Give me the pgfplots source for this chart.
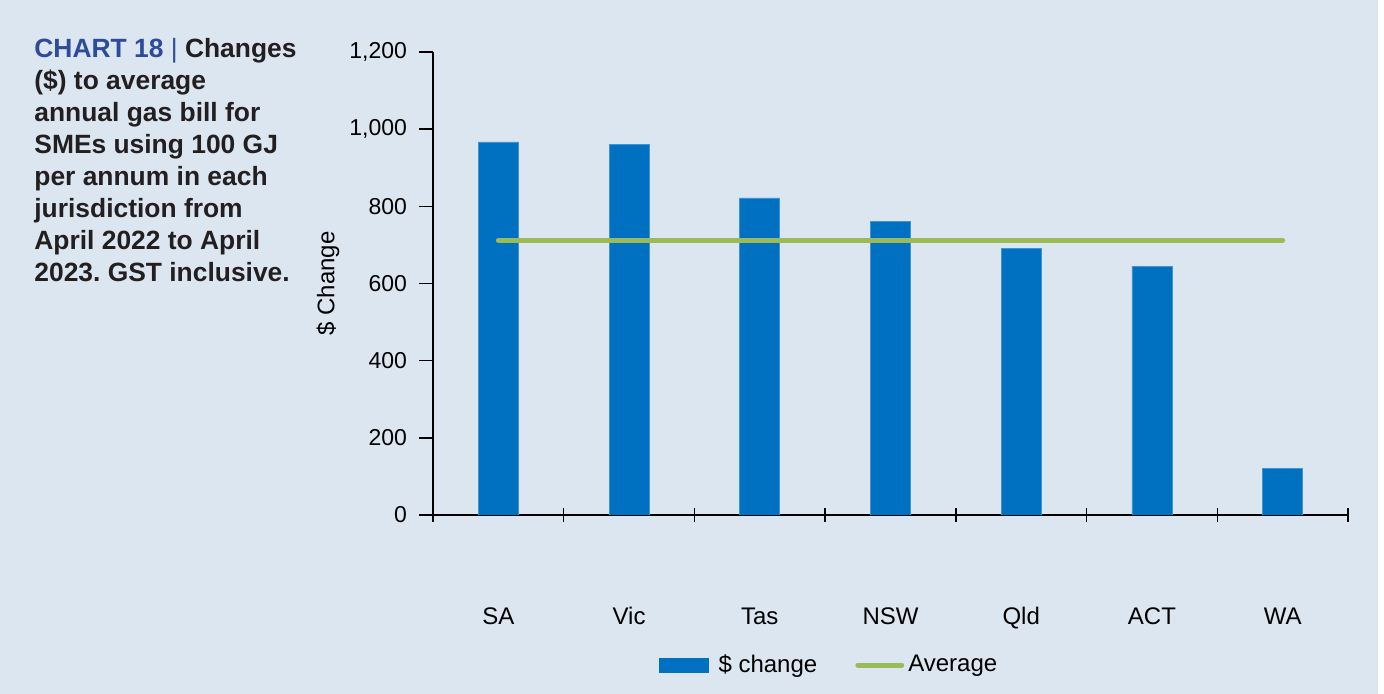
\documentclass[border=0pt]{standalone}
\usepackage{pgfplots}
\pgfplotsset{compat=1.18}
\usepackage{fontspec}
\setmainfont{Liberation Sans}
\frenchspacing
\definecolor{bg}{RGB}{220,230,241}
\definecolor{barblue}{RGB}{0,112,192}
\definecolor{avggreen}{RGB}{155,187,89}
\definecolor{titleblue}{RGB}{46,74,154}
\definecolor{txt}{RGB}{35,31,32}
\pgfplotsset{
  barlegend/.style={legend image code/.code={\fill[barblue] (0pt,-3.5pt) rectangle (24.5pt,3.5pt);}},
  linelegend/.style={legend image code/.code={\draw[##1] (1pt,0pt) -- (23pt,0pt);}},
}
\begin{document}
\begin{tikzpicture}
\fill[white, use as bounding box] (0pt,0pt) rectangle (692pt,347pt);
\fill[bg] (0pt,0pt) rectangle (689pt,347pt);
\node[anchor=north west, align=left, font=\fontsize{13.2}{16}\selectfont\bfseries, text=txt, inner sep=0pt] at (17pt,328pt)
{{\color{titleblue}CHART 18 {\mdseries|}} Changes\\
(\$) to average\\
annual gas bill for\\
SMEs using 100 GJ\\
per annum in each\\
jurisdiction from\\
April 2022 to April\\
2023. GST inclusive.};
\begin{axis}[
  at={(216.5pt,89.5pt)}, anchor=south west,
  scale only axis, width=457.5pt, height=231.5pt,
  xmin=-0.5, xmax=6.5, ymin=0, ymax=1200,
  axis lines*=left,
  axis line style={black, line width=0.7pt},
  tick style={black, line width=0.7pt},
  tick align=center, major tick length=7pt,
  y tick style={xshift=-3.5pt},
  xtick={-0.5,0.5,...,6.5}, xticklabels={},
  extra x ticks={0,1,2,3,4,5,6},
  extra x tick labels={SA,Vic,Tas,NSW,Qld,ACT,WA},
  extra x tick style={major tick length=0pt, tick label style={yshift=-42pt, text height=9pt, text depth=2.5pt}},
  ytick={0,200,...,1200},
  /pgf/number format/assume math mode=true,
  /pgf/number format/1000 sep={,},
  tick label style={font=\fontsize{12}{14}\selectfont, text=black},
  yticklabel style={font=\fontsize{11.5}{14}\selectfont, xshift=-6pt},
  ylabel={\$ Change},
  every axis y label/.style={at={(rel axis cs:0,0.5)}, xshift=-52.5pt, rotate=90, anchor=center, font=\fontsize{12}{14}\selectfont},
  legend columns=2,
  legend style={draw=none, fill=none, at={(rel axis cs:0.434,-0.324)}, anchor=center,
    font=\fontsize{12}{14}\selectfont, /tikz/every even column/.append style={column sep=17pt}},
]
\addplot[fill=barblue, draw=barblue!75!white, line width=0.3pt, ybar, bar width=20pt, barlegend]
  coordinates {(0,967) (1,961) (2,822) (3,760) (4,690) (5,645) (6,120)};
\addlegendentry{\hspace{3pt}\$ change}
\addplot[avggreen, line width=2.5pt, line cap=round, linelegend]
  coordinates {(0,712) (1,712) (2,712) (3,712) (4,712) (5,712) (6,712)};
\addlegendentry{Average}
\end{axis}
\end{tikzpicture}
\end{document}
